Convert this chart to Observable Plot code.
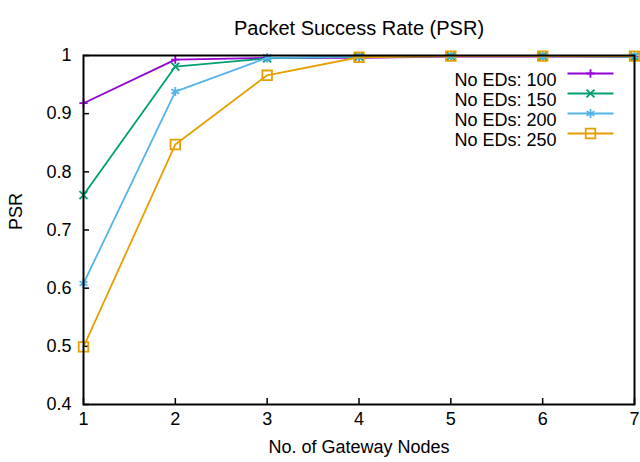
<!DOCTYPE html>
<html>
<head>
<meta charset="utf-8">
<script src="https://cdn.jsdelivr.net/npm/d3@7"></script>
<script src="https://cdn.jsdelivr.net/npm/@observablehq/plot@0.6"></script>
<style>
  html, body { margin: 0; padding: 0; background: #fff; }
  #chart svg { display: block; }
</style>
</head>
<body>
<div id="chart"></div>
<script>
const title = "Packet Success Rate (PSR)";
const xLabel = "No. of Gateway Nodes";
const yLabel = "PSR";
const nodes = [1, 2, 3, 4, 5, 6, 7];
const seriesNames = ["No EDs: 100", "No EDs: 150", "No EDs: 200", "No EDs: 250"];
const psr100 = [0.918, 0.993, 0.996, 0.996, 0.998, 0.998, 0.998];
const psr150 = [0.760, 0.981, 0.995, 0.998, 0.999, 0.999, 0.998];
const psr200 = [0.608, 0.938, 0.996, 0.998, 0.999, 0.999, 0.999];
const psr250 = [0.499, 0.847, 0.966, 0.997, 0.999, 0.999, 0.999];
const xTicks = [1, 2, 3, 4, 5, 6, 7];
const yTicks = [0.4, 0.5, 0.6, 0.7, 0.8, 0.9, 1.0];
const yTickLabels = ["0.4", "0.5", "0.6", "0.7", "0.8", "0.9", "1"];
const colors = ["#9400d3", "#009e73", "#56b4e9", "#e69f00"];
const symbols = ["plus", "times", "asterisk", "square"];
const symbolRadii = [2.8, 3.7, 4.3, 5.4];

const allSeries = [psr100, psr150, psr200, psr250];
const rows = [];
allSeries.forEach((vals, si) => {
  vals.forEach((v, i) => rows.push({series: seriesNames[si], nodes: nodes[i], psr: v}));
});

const font = "Liberation Sans, Arial, sans-serif";
const lw = 1.8;
const lineSym = {draw(ctx) { ctx.moveTo(-23, 0); ctx.lineTo(23, 0); }};

const seriesMarks = [];
const legendMarks = [];
seriesNames.forEach((name, i) => {
  const data = rows.filter(d => d.series === name);
  seriesMarks.push(
    Plot.line(data, {x: "nodes", y: "psr", stroke: colors[i], strokeWidth: lw}),
    Plot.dot(data, {x: "nodes", y: "psr", stroke: colors[i], symbol: () => symbols[i], r: symbolRadii[i], fill: "none", strokeWidth: lw})
  );
  const dy = 18 + 20 * i;
  legendMarks.push(
    Plot.text([name], {text: d => d, frameAnchor: "top-right", dx: -78, dy, textAnchor: "end", fontSize: 18, fill: "#000"}),
    Plot.dot([name], {frameAnchor: "top-right", dx: -44, dy, symbol: () => lineSym, r: 5, stroke: colors[i], strokeWidth: lw, fill: "none"}),
    Plot.dot([name], {frameAnchor: "top-right", dx: -44, dy, symbol: () => symbols[i], r: symbolRadii[i], stroke: colors[i], strokeWidth: lw, fill: "none"})
  );
});

const chart = Plot.plot({
  width: 640,
  height: 462,
  marginLeft: 83,
  marginRight: 6,
  marginTop: 55,
  marginBottom: 58,
  style: {fontFamily: font, fontSize: "18px", color: "#000", background: "#fff"},
  x: {domain: [1, 7]},
  y: {domain: [0.4, 1]},
  marks: [
    Plot.axisX({ticks: xTicks, tickSize: -6, tickPadding: 14, tickFormat: d => String(d), label: null, fontSize: 18, strokeWidth: 1.5}),
    Plot.axisY({ticks: yTicks, tickSize: -6, tickPadding: 18, tickFormat: d => yTickLabels[yTicks.findIndex(t => Math.abs(t - d) < 1e-9)], label: null, fontSize: 18, strokeWidth: 1.5}),
    ...seriesMarks,
    Plot.frame({stroke: "#000", strokeWidth: 2}),
    ...legendMarks,
    Plot.text([title], {text: d => d, frameAnchor: "top", dy: -35, fontSize: 20, fill: "#000"}),
    Plot.text([xLabel], {text: d => d, frameAnchor: "bottom", dy: 48, fontSize: 18, fill: "#000"}),
    Plot.text([yLabel], {text: d => d, frameAnchor: "left", dx: -67, rotate: -90, fontSize: 18, fill: "#000"})
  ]
});
document.getElementById("chart").appendChild(chart);
</script>
</body>
</html>
